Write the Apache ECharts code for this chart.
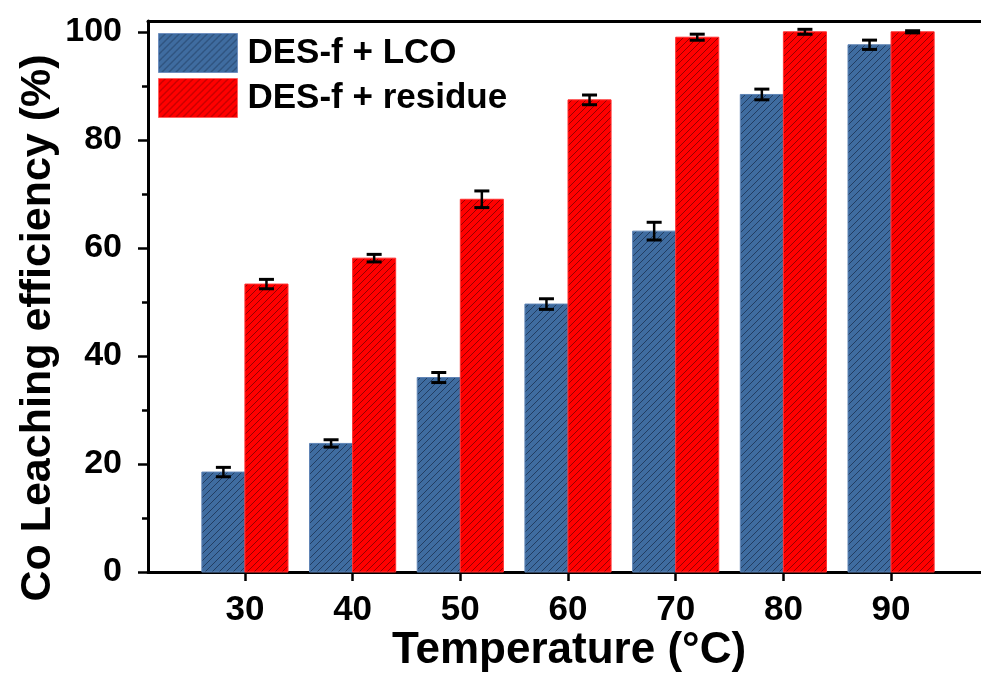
<!DOCTYPE html>
<html><head><meta charset="utf-8">
<script src="https://cdn.jsdelivr.net/npm/echarts@6/dist/echarts.min.js"></script>
<style>html,body{margin:0;padding:0;background:#fff}#c{width:981px;height:680px}</style>
</head><body><div id="c"></div>
<script>
// ---- data ----
const temperatures = [30, 40, 50, 60, 70, 80, 90];
const lcoValues = [18.5, 23.8, 36.0, 49.6, 63.1, 88.4, 97.6];
const lcoErrors = [0.87, 0.68, 0.93, 0.98, 1.64, 0.99, 0.86];
const residueValues = [53.3, 58.1, 69.0, 87.4, 99.0, 100.0, 100.0];
const residueErrors = [0.87, 0.7, 1.54, 0.9, 0.56, 0.46, 0.2];
const yMajorTicks = [0, 20, 40, 60, 80, 100];
const yMinorTicks = [10, 30, 50, 70, 90];
const seriesNames = ['DES-f + LCO', 'DES-f + residue'];

// ---- styling ----
const FONT = '"Liberation Sans", Arial, sans-serif';
const BAR_UNITS = 4.0;

function hatch(bg, line) {
  const s = 7, c = document.createElement('canvas');
  c.width = s; c.height = s;
  const g = c.getContext('2d');
  g.fillStyle = bg; g.fillRect(0, 0, s, s);
  g.strokeStyle = line; g.lineWidth = 1;
  g.beginPath();
  g.moveTo(-1, s + 1); g.lineTo(s + 1, -1);
  g.moveTo(-1, 1); g.lineTo(1, -1);
  g.moveTo(s - 1, s + 1); g.lineTo(s + 1, s - 1);
  g.stroke();
  return c;
}
const bluePattern = { image: hatch('#3f6ca0', 'rgba(15,30,55,0.6)'), repeat: 'repeat' };
const redPattern = { image: hatch('#ff0000', 'rgba(60,0,0,0.55)'), repeat: 'repeat' };

function barRender(side, fill, stroke) {
  return function (params, api) {
    const x = api.value(0), y = api.value(1);
    const x0 = side < 0 ? x - BAR_UNITS : x;
    const p0 = api.coord([x0, y]);
    const p1 = api.coord([x0 + BAR_UNITS, 0]);
    return {
      type: 'rect',
      shape: { x: p0[0], y: p0[1], width: p1[0] - p0[0], height: p1[1] - p0[1] },
      style: { fill: fill, stroke: stroke, lineWidth: 1 }
    };
  };
}
function errRender(side) {
  return function (params, api) {
    const x = api.value(0) + side * BAR_UNITS / 2, y = api.value(1), e = api.value(2);
    const t = api.coord([x, y + e]), b = api.coord([x, y - e]);
    const hw = 7.5;
    const st = { stroke: '#000', lineWidth: 3 };
    return {
      type: 'group', children: [
        { type: 'line', shape: { x1: t[0], y1: t[1], x2: b[0], y2: b[1] }, style: { stroke: '#000', lineWidth: 2.5 } },
        { type: 'line', shape: { x1: t[0] - hw, y1: t[1], x2: t[0] + hw, y2: t[1] }, style: st },
        { type: 'line', shape: { x1: b[0] - hw, y1: b[1], x2: b[0] + hw, y2: b[1] }, style: st }
      ]
    };
  };
}

const lcoData = temperatures.map((t, i) => [t, lcoValues[i], lcoErrors[i]]);
const resData = temperatures.map((t, i) => [t, residueValues[i], residueErrors[i]]);

const chart = echarts.init(document.getElementById('c'), null, { renderer: 'canvas' });
chart.setOption({
  animation: false,
  backgroundColor: '#fff',
  grid: { left: 148, top: 21, width: 840, height: 551, outerBoundsMode: 'none', containLabel: false },
  legend: {
    left: 158, top: 33, padding: 0, orient: 'vertical', itemWidth: 79, itemHeight: 39, itemGap: 5,
    icon: 'rect', selectedMode: false,
    data: [
      { name: seriesNames[0], itemStyle: { color: bluePattern, borderColor: '#6f8fbf', borderWidth: 1 } },
      { name: seriesNames[1], itemStyle: { color: redPattern, borderColor: '#ff6060', borderWidth: 1 } }
    ],
    textStyle: { fontSize: 35, fontWeight: 'bold', fontFamily: FONT, color: '#000', padding: [0, 0, 0, 5] }
  },
  xAxis: [{
    type: 'value', min: 21, max: 99, position: 'bottom',
    axisLine: { show: true, onZero: false, lineStyle: { color: '#000', width: 3 } },
    axisTick: { show: true, customValues: temperatures, length: 9, lineStyle: { color: '#000', width: 2.5 } },
    axisLabel: { customValues: temperatures, fontSize: 35, fontWeight: 'bold', fontFamily: FONT, color: '#000', margin: 21 },
    splitLine: { show: false }
  }, {
    type: 'value', min: 21, max: 99, position: 'top',
    axisLine: { show: true, onZero: false, lineStyle: { color: '#000', width: 3 } },
    axisTick: { show: false }, axisLabel: { show: false }, splitLine: { show: false }
  }],
  yAxis: [{
    type: 'value', min: 0, max: 102, position: 'left',
    axisLine: { show: true, onZero: false, lineStyle: { color: '#000', width: 3 } },
    axisTick: { show: true, customValues: yMajorTicks, length: 10, lineStyle: { color: '#000', width: 2.5 } },
    axisLabel: { customValues: yMajorTicks, fontSize: 34, fontWeight: 'bold', fontFamily: FONT, color: '#000', margin: 26 },
    splitLine: { show: false }
  }, {
    type: 'value', min: 0, max: 102, position: 'left',
    axisLine: { show: false, onZero: false },
    axisTick: { show: true, customValues: yMinorTicks, length: 6, lineStyle: { color: '#000', width: 2.5 } },
    axisLabel: { show: false }, splitLine: { show: false }
  }],
  graphic: [
    { type: 'text', x: 569, y: 651, style: { text: 'Temperature (°C)', font: 'bold 44px ' + FONT, textAlign: 'center', textVerticalAlign: 'middle', fill: '#000' } },
    { type: 'text', x: 38, y: 328, rotation: Math.PI / 2, style: { text: 'Co Leaching efficiency (%)', font: 'bold 43px ' + FONT, textAlign: 'center', textVerticalAlign: 'middle', fill: '#000' } }
  ],
  series: [
    { name: seriesNames[0], type: 'custom', xAxisIndex: 0, yAxisIndex: 0, itemStyle: { color: bluePattern }, encode: { x: 0, y: 1 }, data: lcoData, renderItem: barRender(-1, bluePattern, '#5f84b5'), z: 2 },
    { name: seriesNames[1], type: 'custom', xAxisIndex: 0, yAxisIndex: 0, itemStyle: { color: redPattern }, encode: { x: 0, y: 1 }, data: resData, renderItem: barRender(1, redPattern, '#ff3030'), z: 2 },
    { name: 'err-lco', type: 'custom', encode: { x: 0, y: 1 }, data: lcoData, renderItem: errRender(-1), z: 3 },
    { name: 'err-res', type: 'custom', encode: { x: 0, y: 1 }, data: resData, renderItem: errRender(1), z: 3 }
  ]
});
</script>
</body></html>
